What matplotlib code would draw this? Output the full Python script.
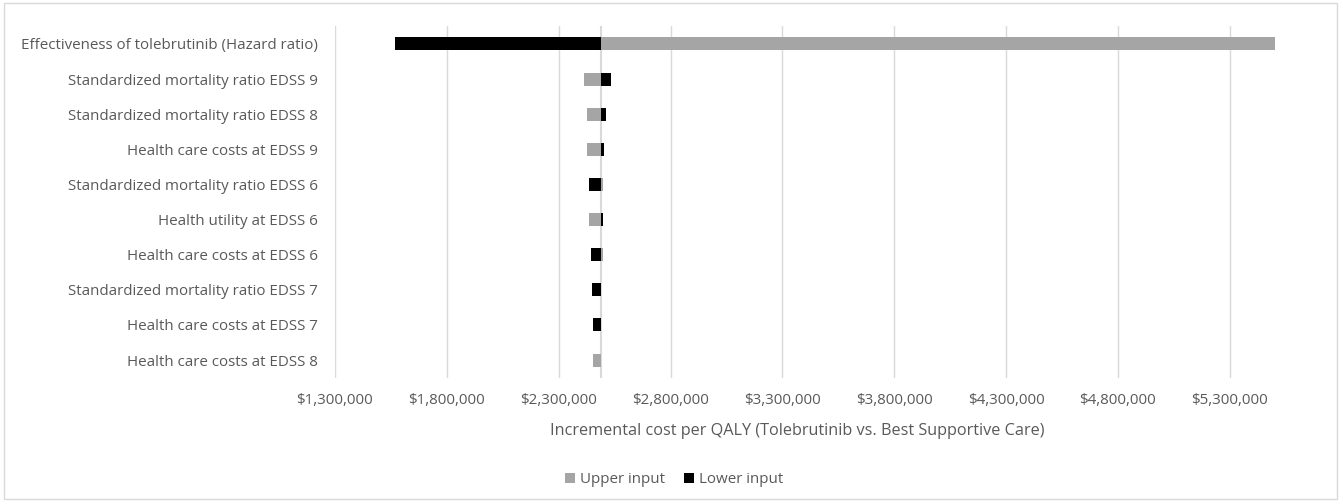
import matplotlib.pyplot as plt
import matplotlib.patches as patches
from matplotlib.ticker import FuncFormatter

labels = ['Effectiveness of tolebrutinib (Hazard ratio)',
          'Standardized mortality ratio EDSS 9',
          'Standardized mortality ratio EDSS 8',
          'Health care costs at EDSS 9',
          'Standardized mortality ratio EDSS 6',
          'Health utility at EDSS 6',
          'Health care costs at EDSS 6',
          'Standardized mortality ratio EDSS 7',
          'Health care costs at EDSS 7',
          'Health care costs at EDSS 8']
upper = [5500000, 2414000, 2425000, 2425000, 2498000, 2435000, 2497000, 2491000, 2491000, 2455000]
lower = [1568000, 2532000, 2511000, 2501000, 2435000, 2499000, 2444000, 2450000, 2455000, 2490000]
base = 2489000
ticks = [1300000, 1800000, 2300000, 2800000, 3300000, 3800000, 4300000, 4800000, 5300000]

plt.rcParams['font.family'] = ['Open Sans', 'DejaVu Sans']
txt = '#595959'

fig = plt.figure(figsize=(13.43, 5.04), dpi=100)
ax = fig.add_axes([0.2494, 0.2508, 0.703, 0.697])

y = list(range(len(labels)))
ax.barh(y, [u - base for u in upper], left=base, height=0.37, color='#a5a5a5', label='Upper input', zorder=2)
ax.barh(y, [l - base for l in lower], left=base, height=0.37, color='#000000', label='Lower input', zorder=2)

ax.set_xlim(1300000, 5520000)
ax.set_ylim(len(labels) - 0.5, -0.5)
ax.set_yticks(y)
ax.set_yticklabels(labels, fontsize=10.9, color=txt)
ax.set_xticks(ticks)
ax.xaxis.set_major_formatter(FuncFormatter(lambda v, p: '${:,.0f}'.format(v)))
ax.tick_params(axis='x', labelsize=10.9, labelcolor=txt, length=0, pad=11)
ax.tick_params(axis='y', length=0, pad=12)
ax.grid(axis='x', color='#d9d9d9', lw=1, zorder=0)
ax.axvline(base, color='#d9d9d9', lw=1.5, zorder=1)
for s in ax.spines.values():
    s.set_visible(False)

ax.set_xlabel('Incremental cost per QALY (Tolebrutinib vs. Best Supportive Care)', fontsize=11.7, color=txt)
ax.xaxis.set_label_coords(0.49, -0.13)

fig.legend(loc='center', bbox_to_anchor=(0.502, 0.048), ncol=2, frameon=False,
           fontsize=10.9, labelcolor=txt, handlelength=0.65, handleheight=0.65,
           handletextpad=0.3, columnspacing=1.3)

fig.patches.append(patches.Rectangle((0.003, 0.01), 0.9925, 0.985, transform=fig.transFigure,
                                     fill=False, edgecolor='#d9d9d9', lw=1))

fig.savefig('out.png', dpi=100, facecolor='white')
